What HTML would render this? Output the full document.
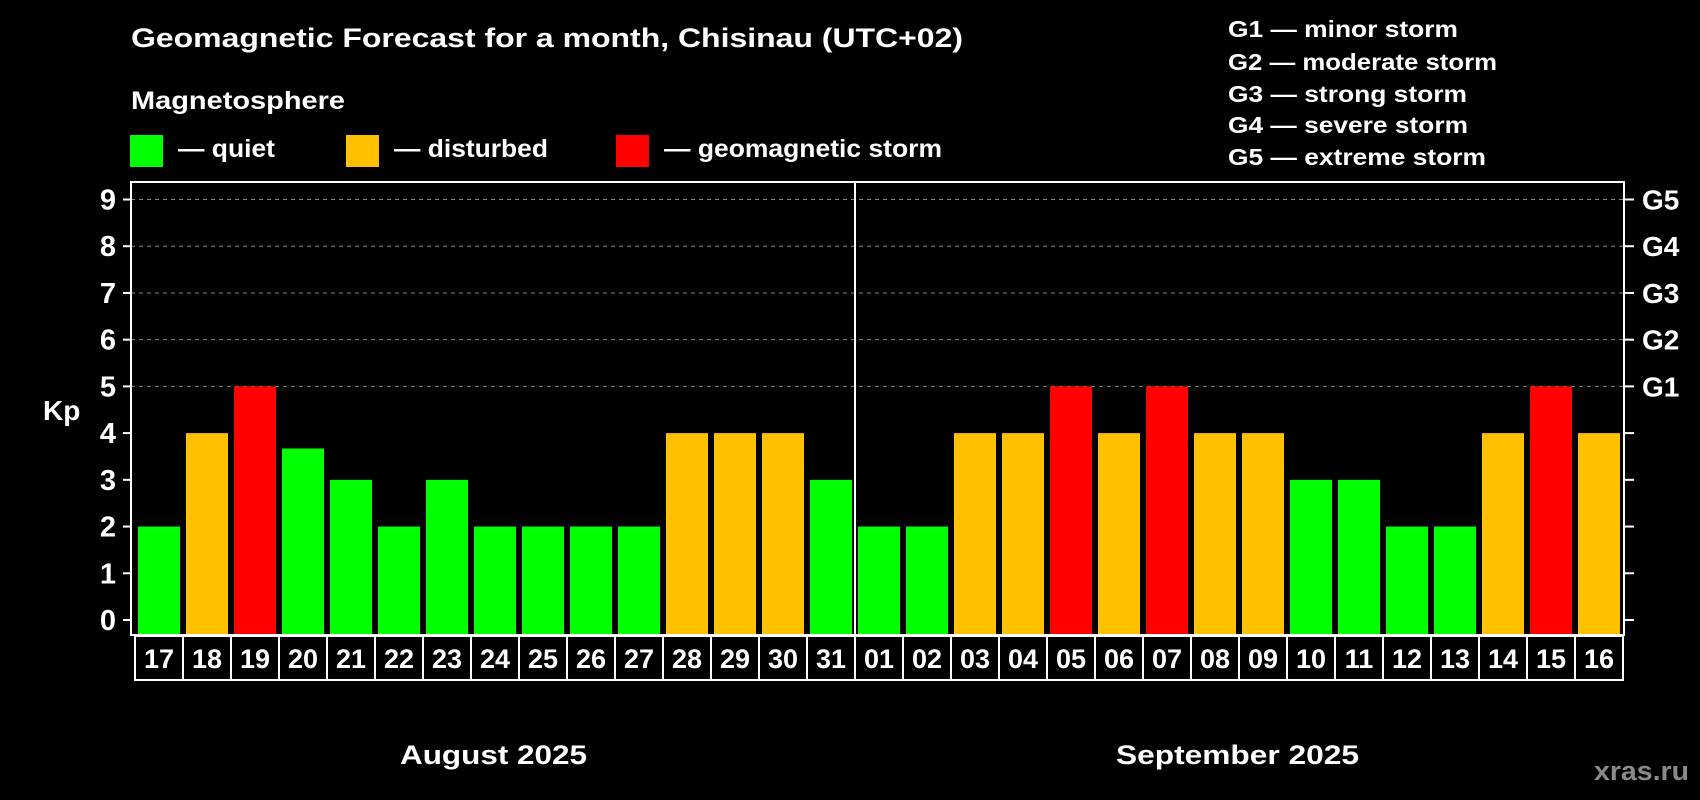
<!DOCTYPE html>
<html><head><meta charset="utf-8"><style>
html,body{margin:0;padding:0;background:#000;}
svg{display:block;font-family:"Liberation Sans",sans-serif;font-weight:bold;}
</style></head><body>
<svg id="chart" width="1700" height="800" viewBox="0 0 1700 800" xmlns="http://www.w3.org/2000/svg">
<rect width="1700" height="800" fill="#000"/>
<text x="131" y="47" fill="#fff" font-size="27" textLength="832" lengthAdjust="spacingAndGlyphs">Geomagnetic Forecast for a month, Chisinau (UTC+02)</text>
<text x="131" y="109" fill="#fff" font-size="25" textLength="214" lengthAdjust="spacingAndGlyphs">Magnetosphere</text>
<g>
<rect x="130" y="135" width="33" height="32" fill="#00ff00"/>
<text x="178" y="157" fill="#fff" font-size="25" textLength="97" lengthAdjust="spacingAndGlyphs">— quiet</text></g>
<g>
<rect x="346" y="135" width="33" height="32" fill="#ffc000"/>
<text x="394" y="157" fill="#fff" font-size="25" textLength="154" lengthAdjust="spacingAndGlyphs">— disturbed</text></g>
<g>
<rect x="616" y="135" width="33" height="32" fill="#ff0000"/>
<text x="664" y="157" fill="#fff" font-size="25" textLength="278" lengthAdjust="spacingAndGlyphs">— geomagnetic storm</text></g>
<g fill="#fff" font-size="23">
<text x="1228" y="37" textLength="230" lengthAdjust="spacingAndGlyphs">G1 — minor storm</text>
<text x="1228" y="70" textLength="269" lengthAdjust="spacingAndGlyphs">G2 — moderate storm</text>
<text x="1228" y="102" textLength="239" lengthAdjust="spacingAndGlyphs">G3 — strong storm</text>
<text x="1228" y="133" textLength="240" lengthAdjust="spacingAndGlyphs">G4 — severe storm</text>
<text x="1228" y="165" textLength="258" lengthAdjust="spacingAndGlyphs">G5 — extreme storm</text>
</g>
<text x="43" y="420" fill="#fff" font-size="28">Kp</text>
<g id="grid"></g><g id="bars"></g><g id="axes"></g>
<text x="400" y="764" fill="#fff" font-size="27" textLength="187" lengthAdjust="spacingAndGlyphs">August 2025</text>
<text x="1116" y="764" fill="#fff" font-size="27" textLength="243" lengthAdjust="spacingAndGlyphs">September 2025</text>
<text x="1594" y="780" fill="#8a8a8a" font-size="27" textLength="95" lengthAdjust="spacingAndGlyphs">xras.ru</text>
</svg>
<script>
const days = ["17","18","19","20","21","22","23","24","25","26","27","28","29","30","31","01","02","03","04","05","06","07","08","09","10","11","12","13","14","15","16"];
const kpValues = [2,4,5,3.67,3,2,3,2,2,2,2,4,4,4,3,2,2,4,4,5,4,5,4,4,3,3,2,2,4,5,4];
const yTicks = [0,1,2,3,4,5,6,7,8,9];
const gLevels = ["G1","G2","G3","G4","G5"];
const gKp = [5,6,7,8,9];

const NS="http://www.w3.org/2000/svg";
const L=131,R=1624,T=182,B=635,slot0=135,slotW=48;
function y(v){return 620-(620-199.5)*v/9;}
function xs(i){return slot0+i*slotW;}
function mk(tag,attrs,parent){const e=document.createElementNS(NS,tag);for(const k in attrs)e.setAttribute(k,attrs[k]);parent.appendChild(e);return e;}
const grid=document.getElementById('grid'),bars=document.getElementById('bars'),axes=document.getElementById('axes');
gKp.forEach((v,i)=>{
  const l=mk('line',{x1:L,x2:R,y1:y(v),y2:y(v),stroke:'#888','stroke-dasharray':'4,4','stroke-width':1},grid);
  
  
  const t=mk('text',{x:1642,y:y(v)+10,fill:'#fff','font-size':28},axes);t.textContent=gLevels[i];
  
  
});
kpValues.forEach((v,i)=>{
  const c=v>=5?'#ff0000':(v>=4?'#ffc000':'#00ff00');
  const r=mk('rect',{x:xs(i)+3,y:y(v),width:42,height:B-y(v),fill:c},bars);
  
  
  const bx=mk('rect',{x:xs(i),y:636,width:slotW,height:44,fill:'none',stroke:'#fff','stroke-width':2},axes);
  
  
  const t=mk('text',{x:xs(i)+slotW/2,y:668,fill:'#fff','font-size':27,'text-anchor':'middle'},axes);t.textContent=days[i];
  
  
});
const frame=mk('rect',{x:L,y:T,width:R-L,height:B-T,fill:'none',stroke:'#fff','stroke-width':2},axes);


const div=mk('line',{x1:xs(15),x2:xs(15),y1:T,y2:B,stroke:'#fff','stroke-width':2},axes);


yTicks.forEach(v=>{
  mk('line',{x1:123,x2:L,y1:y(v),y2:y(v),stroke:'#fff','stroke-width':2},axes);
  mk('line',{x1:R,x2:1634,y1:y(v),y2:y(v),stroke:'#fff','stroke-width':2},axes);
  const t=mk('text',{x:116,y:y(v)+10,fill:'#fff','font-size':29,'text-anchor':'end'},axes);t.textContent=v;
  
  
});
</script>
</body></html>
